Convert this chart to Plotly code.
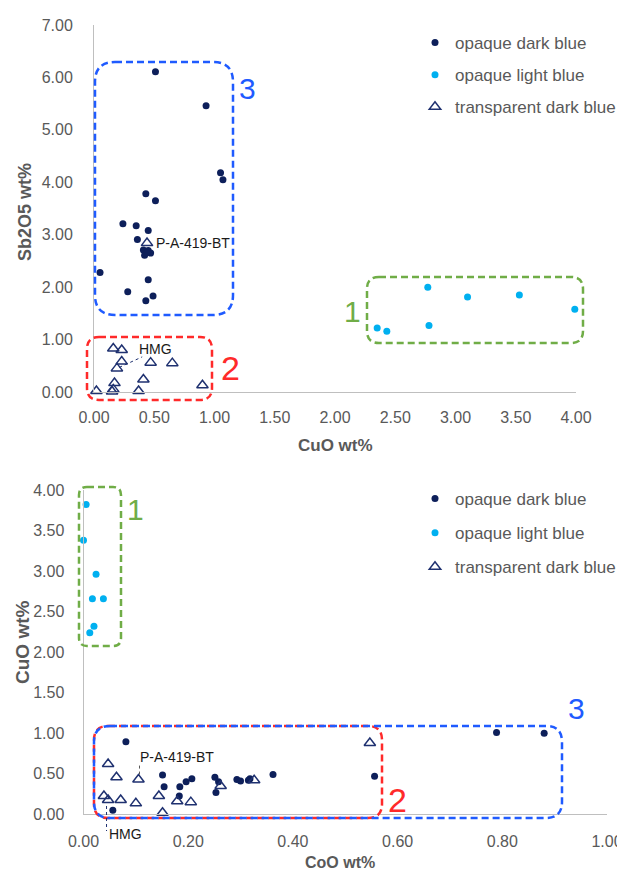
import plotly.graph_objects as go

# the page places the figure 8 px from the top-left corner of the window
OFF = 8
W, H = 625 - OFF, 875 - OFF

# ---------------- data: chart A (Sb2O5 vs CuO) ----------------
a_dark_cuo = [0.51, 0.93, 1.05, 1.07, 0.43, 0.51, 0.24, 0.35, 0.45, 0.36,
              0.41, 0.45, 0.47, 0.42, 0.44, 0.05, 0.45, 0.28, 0.49, 0.43]
a_dark_sb = [6.11, 5.46, 4.18, 4.05, 3.78, 3.65, 3.21, 3.17, 3.08, 2.91,
             2.71, 2.70, 2.65, 2.61, 2.66, 2.28, 2.14, 1.91, 1.83, 1.74]
a_light_cuo = [2.35, 2.43, 2.77, 2.78, 3.10, 3.53, 3.99]
a_light_sb = [1.22, 1.16, 2.00, 1.27, 1.81, 1.85, 1.58]
a_trans_cuo = [0.16, 0.23, 0.23, 0.19, 0.47, 0.65, 0.41, 0.17, 0.16, 0.15, 0.02, 0.37, 0.90, 0.44]
a_trans_sb = [0.83, 0.80, 0.58, 0.45, 0.56, 0.55, 0.24, 0.17, 0.05, 0.01, 0.02, 0.02, 0.13, 2.84]

# ---------------- data: chart B (CuO vs CoO) ----------------
b_dark_coo = [0.081, 0.151, 0.154, 0.184, 0.196, 0.207, 0.183, 0.251, 0.258, 0.253,
              0.293, 0.300, 0.315, 0.318, 0.362, 0.056, 0.556, 0.789, 0.880]
b_dark_cuo = [0.895, 0.485, 0.34, 0.34, 0.40, 0.44, 0.226, 0.456, 0.40, 0.27,
              0.43, 0.41, 0.42, 0.44, 0.49, 0.05, 0.47, 1.01, 1.00]
b_light_coo = [0.005, 0.000, 0.024, 0.017, 0.038, 0.020, 0.012]
b_light_cuo = [3.82, 3.38, 2.96, 2.66, 2.66, 2.32, 2.24]
b_trans_coo = [0.047, 0.063, 0.105, 0.039, 0.047, 0.071, 0.100, 0.144, 0.151, 0.179, 0.205, 0.262, 0.326, 0.547]
b_trans_cuo = [0.62, 0.456, 0.43, 0.225, 0.176, 0.176, 0.135, 0.225, 0.02, 0.16, 0.15, 0.35, 0.42, 0.88]

series_names = ["opaque dark blue", "opaque light blue", "transparent dark blue"]

DARK = "#0D1F5A"
LIGHT = "#00B0F0"
TRI = "#1F3170"
GRAY = "#595959"
FONT = "Liberation Sans, Arial, sans-serif"
BLUE = "#1F5BFF"
RED = "#FF2A2A"
GREEN = "#70AD47"


def PX(px):
    return (px - OFF) / W


def PY(py):
    return 1 - (py - OFF) / H


fig = go.Figure()


def add_series(xs, ys, name, kind, xa, ya, legend):
    if kind == "dark":
        marker = dict(symbol="circle", size=7, color=DARK)
    elif kind == "light":
        marker = dict(symbol="circle", size=7, color=LIGHT)
    else:
        marker = dict(symbol="triangle-up-open", size=10, color=TRI, line=dict(width=1.5, color=TRI))
    fig.add_trace(go.Scatter(x=xs, y=ys, mode="markers", name=name, marker=marker,
                             xaxis=xa, yaxis=ya, legend=legend, legendgroup=legend + name,
                             cliponaxis=False))


add_series(a_dark_cuo, a_dark_sb, series_names[0], "dark", "x", "y", "legend")
add_series(a_light_cuo, a_light_sb, series_names[1], "light", "x", "y", "legend")
add_series(a_trans_cuo, a_trans_sb, series_names[2], "tri", "x", "y", "legend")
add_series(b_dark_coo, b_dark_cuo, series_names[0], "dark", "x2", "y2", "legend2")
add_series(b_light_coo, b_light_cuo, series_names[1], "light", "x2", "y2", "legend2")
add_series(b_trans_coo, b_trans_cuo, series_names[2], "tri", "x2", "y2", "legend2")

axis_common = dict(showgrid=False, zeroline=False, showline=True, linecolor="#BFBFBF", linewidth=1,
                   ticks="", tickformat=".2f", tickfont=dict(family=FONT, size=16, color=GRAY),
                   automargin=False)

fig.update_layout(
    width=W, height=H, margin=dict(l=0, r=0, t=0, b=0, pad=0, autoexpand=False),
    paper_bgcolor="white", plot_bgcolor="rgba(0,0,0,0)",
    font=dict(family=FONT, color=GRAY),
    xaxis=dict(domain=[PX(94), PX(576)], range=[0, 4], tick0=0, dtick=0.5, anchor="y",
               ticklabelstandoff=11, **axis_common),
    yaxis=dict(domain=[PY(392), PY(25)], range=[0, 7], tick0=0, dtick=1, anchor="x",
               ticklabelstandoff=17, **axis_common),
    xaxis2=dict(domain=[PX(83.5), PX(607)], range=[0, 1], tick0=0, dtick=0.2, anchor="y2",
                ticklabelstandoff=12, **axis_common),
    yaxis2=dict(domain=[PY(814.3), PY(490)], range=[0, 4], tick0=0, dtick=0.5, anchor="x2",
                ticklabelstandoff=15, **axis_common),
    legend=dict(x=PX(415), y=PY(25), xanchor="left", yanchor="top", bgcolor="rgba(0,0,0,0)",
                font=dict(family=FONT, size=17, color=GRAY), tracegroupgap=7),
    legend2=dict(x=PX(415), y=PY(481), xanchor="left", yanchor="top", bgcolor="rgba(0,0,0,0)",
                 font=dict(family=FONT, size=17, color=GRAY), tracegroupgap=9),
)


def rrect(x0, y0, x1, y1, r):
    pts = [
        ("M", [(x0 + r, y0)]), ("L", [(x1 - r, y0)]), ("Q", [(x1, y0), (x1, y0 + r)]),
        ("L", [(x1, y1 - r)]), ("Q", [(x1, y1), (x1 - r, y1)]),
        ("L", [(x0 + r, y1)]), ("Q", [(x0, y1), (x0, y1 - r)]),
        ("L", [(x0, y0 + r)]), ("Q", [(x0, y0), (x0 + r, y0)]),
    ]
    s = ""
    for cmd, ps in pts:
        s += cmd + " " + " ".join(f"{PX(a):.5f},{PY(b):.5f}" for a, b in ps) + " "
    return s + "Z"


boxes = [
    ((95, 62, 233, 315, 20), BLUE),
    ((87, 337, 212, 400, 12), RED),
    ((367, 277, 583, 343, 12), GREEN),
    ((79, 487, 121, 646, 8), GREEN),
    ((94, 726, 382, 818, 14), RED),
    ((94, 726, 562, 818, 16), BLUE),
]
for (x0, y0, x1, y1, r), col in boxes:
    fig.add_shape(type="path", path=rrect(x0, y0, x1, y1, r), xref="paper", yref="paper",
                  line=dict(color=col, width=2.5, dash="7px,4px"), layer="above")

# box numbers
box_labels = [("3", 247, 88, BLUE, 30), ("2", 230, 368, RED, 34), ("1", 352, 311, GREEN, 30),
              ("1", 135, 509, GREEN, 30), ("3", 576, 708, BLUE, 30), ("2", 397, 800, RED, 34)]
for t, px, py, col, sz in box_labels:
    fig.add_annotation(text=t, x=PX(px), y=PY(py), xref="paper", yref="paper", showarrow=False,
                       font=dict(family=FONT, size=sz, color=col), xanchor="center", yanchor="middle")

# sample labels
for t, px, py in [("P-A-419-BT", 154, 243), ("HMG", 137, 349), ("P-A-419-BT", 138, 757), ("HMG", 107, 834)]:
    fig.add_annotation(text=t, x=PX(px), y=PY(py), xref="paper", yref="paper", showarrow=False,
                       font=dict(family=FONT, size=14, color="#1A1A1A"), xanchor="left", yanchor="middle")

# leader lines
fig.add_shape(type="line", xref="x", yref="y", x0=0.21, y0=0.47, x1=0.40, y1=0.67,
              line=dict(color=TRI, width=1, dash="dot"))
fig.add_shape(type="line", xref="x2", yref="y2", x0=0.107, y0=0.49, x1=0.107, y1=0.63,
              line=dict(color=GRAY, width=1, dash="dot"))
fig.add_shape(type="line", xref="x2", yref="paper", x0=0.044, y0=PY(806), x1=0.044, y1=PY(831),
              line=dict(color=TRI, width=1, dash="dot"))

# axis titles
titles = [("CuO wt%", 335, 445, 0, 17), ("Sb2O5 wt%", 25, 212, -90, 18),
          ("CoO wt%", 340, 862, 0, 16), ("CuO wt%", 22, 643, -90, 19)]
for t, px, py, ang, sz in titles:
    fig.add_annotation(text=f"<b>{t}</b>", x=PX(px), y=PY(py), xref="paper", yref="paper",
                       showarrow=False, textangle=ang,
                       font=dict(family=FONT, size=sz, color=GRAY), xanchor="center", yanchor="middle")

fig.write_html("out.html")
